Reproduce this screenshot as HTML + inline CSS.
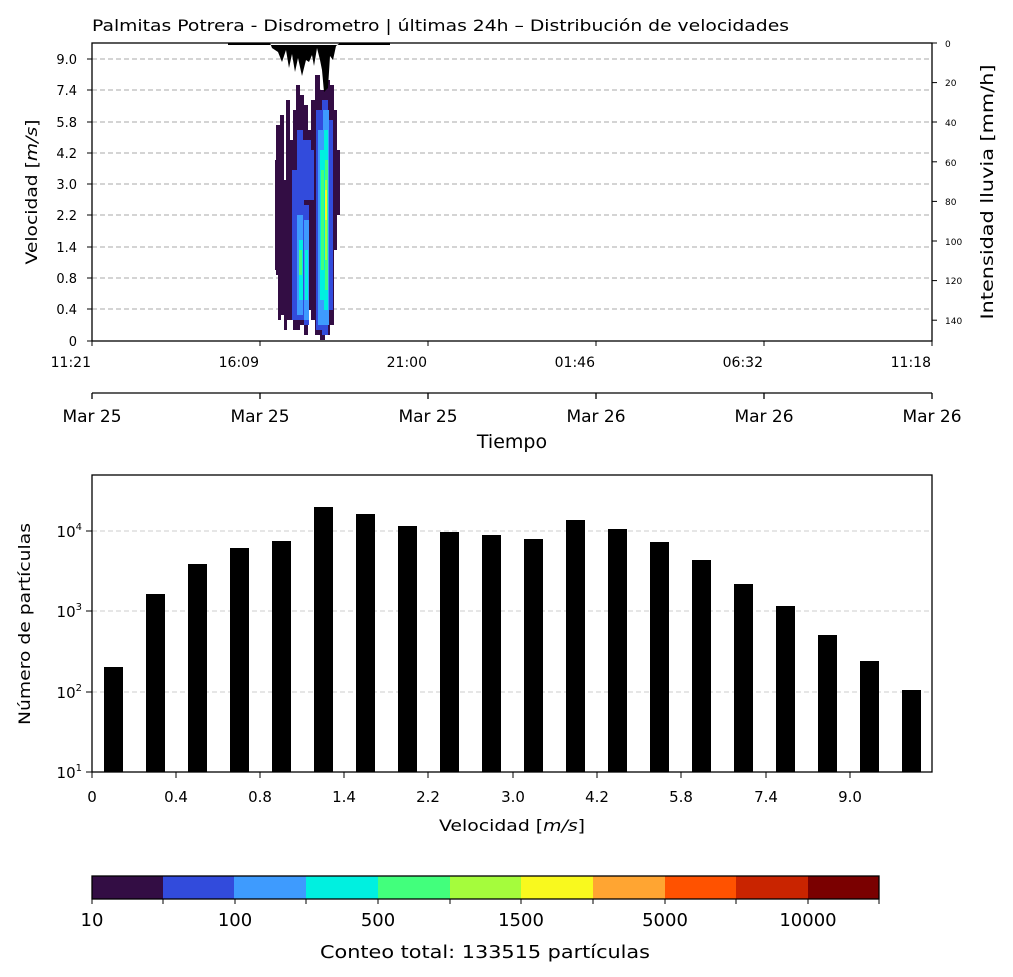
<!DOCTYPE html><html><head><meta charset="utf-8"><style>body{margin:0;background:#fff}svg{display:block}text{font-family:"DejaVu Sans","Liberation Sans",sans-serif;fill:#000}</style></head><body>
<svg width="1013" height="977" viewBox="0 0 1013 977" xmlns="http://www.w3.org/2000/svg">
<text x="92" y="31" font-size="16" textLength="697" lengthAdjust="spacingAndGlyphs">Palmitas Potrera - Disdrometro | últimas 24h – Distribución de velocidades</text>
<g stroke="#aaa" stroke-dasharray="5,3" stroke-width="1">
<line x1="92" x2="932" y1="59" y2="59"/><line x1="92" x2="932" y1="90" y2="90"/><line x1="92" x2="932" y1="122" y2="122"/><line x1="92" x2="932" y1="153" y2="153"/><line x1="92" x2="932" y1="184" y2="184"/><line x1="92" x2="932" y1="215" y2="215"/><line x1="92" x2="932" y1="247" y2="247"/><line x1="92" x2="932" y1="278" y2="278"/><line x1="92" x2="932" y1="309" y2="309"/></g>
<g fill="#330d44">
<rect x="275" y="160" width="3" height="110"/><rect x="276" y="125" width="4" height="150"/><rect x="278" y="260" width="3" height="60"/>
<rect x="280" y="115" width="4" height="200"/><rect x="284" y="180" width="3" height="150"/><rect x="286" y="100" width="4" height="220"/>
<rect x="290" y="140" width="3" height="180"/><rect x="293" y="110" width="3" height="220"/><rect x="296" y="85" width="4" height="245"/>
<rect x="300" y="95" width="4" height="230"/><rect x="304" y="105" width="4" height="230"/><rect x="308" y="130" width="3" height="180"/>
<rect x="311" y="100" width="4" height="220"/><rect x="315" y="75" width="5" height="260"/><rect x="320" y="90" width="5" height="250"/>
<rect x="325" y="80" width="5" height="255"/><rect x="330" y="85" width="4" height="240"/><rect x="334" y="110" width="3" height="140"/><rect x="337" y="150" width="3" height="65"/></g>
<g fill="#324bdc">
<rect x="292" y="170" width="6" height="150"/><rect x="297" y="130" width="6" height="70"/><rect x="298" y="200" width="6" height="120"/>
<rect x="303" y="140" width="8" height="60"/><rect x="304" y="205" width="5" height="120"/><rect x="310" y="150" width="4" height="50"/>
<rect x="316" y="110" width="6" height="220"/><rect x="322" y="100" width="6" height="235"/><rect x="328" y="120" width="5" height="190"/></g>
<g fill="#3e9bfe">
<rect x="297" y="215" width="6" height="100"/><rect x="304" y="220" width="5" height="100"/><rect x="318" y="130" width="5" height="195"/><rect x="323" y="110" width="6" height="215"/></g>
<g fill="#00f0e0"><rect x="299" y="240" width="4" height="60"/><rect x="305" y="250" width="3" height="50"/><rect x="320" y="150" width="4" height="150"/><rect x="324" y="130" width="4" height="180"/></g>
<g fill="#42ff7c"><rect x="299" y="250" width="3" height="25"/><rect x="321" y="170" width="3" height="100"/><rect x="325" y="160" width="3" height="130"/></g>
<rect x="325" y="180" width="2" height="80" fill="#a5fc3c"/><rect x="325" y="190" width="2" height="30" fill="#f9f91e"/>
<polygon fill="#000" points="228,43 270,43 272,48 278,52 282,62 286,50 289,68 292,54 295,72 298,58 302,76 306,60 309,62 312,55 314,66 317,48 320,60 322,70 324,92 328,88 330,56 333,60 336,46 340,43 390,43 390,45 228,45"/>
<rect x="92" y="43" width="840" height="298" fill="none" stroke="#000" stroke-width="1.3"/>
<g font-size="13" text-anchor="end">
<text x="77" y="346">0</text><text x="77" y="314">0.4</text><text x="77" y="283">0.8</text><text x="77" y="252">1.4</text><text x="77" y="220">2.2</text><text x="77" y="189">3.0</text><text x="77" y="158">4.2</text><text x="77" y="127">5.8</text><text x="77" y="95">7.4</text><text x="77" y="64">9.0</text></g>
<g stroke="#000"><line x1="87" x2="92" y1="341" y2="341"/><line x1="87" x2="92" y1="309" y2="309"/><line x1="87" x2="92" y1="278" y2="278"/><line x1="87" x2="92" y1="247" y2="247"/><line x1="87" x2="92" y1="215" y2="215"/><line x1="87" x2="92" y1="184" y2="184"/><line x1="87" x2="92" y1="153" y2="153"/><line x1="87" x2="92" y1="122" y2="122"/><line x1="87" x2="92" y1="90" y2="90"/><line x1="87" x2="92" y1="59" y2="59"/>
<line x1="932" x2="937" y1="43" y2="43"/><line x1="932" x2="937" y1="82.6" y2="82.6"/><line x1="932" x2="937" y1="122" y2="122"/><line x1="932" x2="937" y1="161.8" y2="161.8"/><line x1="932" x2="937" y1="201.4" y2="201.4"/><line x1="932" x2="937" y1="241" y2="241"/><line x1="932" x2="937" y1="280.6" y2="280.6"/><line x1="932" x2="937" y1="320.2" y2="320.2"/></g>
<g font-size="9"><text x="945" y="47">0</text><text x="945" y="86">20</text><text x="945" y="126">40</text><text x="945" y="166">60</text><text x="945" y="205">80</text><text x="945" y="245">100</text><text x="945" y="284">120</text><text x="945" y="324">140</text></g>
<text transform="translate(37,192) rotate(-90)" font-size="16" text-anchor="middle" textLength="145" lengthAdjust="spacingAndGlyphs">Velocidad [<tspan font-style="italic">m/s</tspan>]</text>
<text transform="translate(993,192) rotate(-90)" font-size="17" text-anchor="middle" textLength="255" lengthAdjust="spacingAndGlyphs">Intensidad lluvia [mm/h]</text>
<g stroke="#000"><line x1="92" x2="92" y1="341" y2="346"/><line x1="260" x2="260" y1="341" y2="346"/><line x1="428" x2="428" y1="341" y2="346"/><line x1="596" x2="596" y1="341" y2="346"/><line x1="764" x2="764" y1="341" y2="346"/><line x1="932" x2="932" y1="341" y2="346"/></g>
<g font-size="14" text-anchor="end"><text x="91" y="367">11:21</text><text x="259" y="367">16:09</text><text x="427" y="367">21:00</text><text x="595" y="367">01:46</text><text x="763" y="367">06:32</text><text x="931" y="367">11:18</text></g>
<g stroke="#000" stroke-width="1.3"><line x1="92" x2="932" y1="393" y2="393"/><line x1="92" x2="92" y1="393" y2="399"/><line x1="260" x2="260" y1="393" y2="399"/><line x1="428" x2="428" y1="393" y2="399"/><line x1="596" x2="596" y1="393" y2="399"/><line x1="764" x2="764" y1="393" y2="399"/><line x1="932" x2="932" y1="393" y2="399"/></g>
<g font-size="17" text-anchor="middle"><text x="92" y="422">Mar 25</text><text x="260" y="422">Mar 25</text><text x="428" y="422">Mar 25</text><text x="596" y="422">Mar 26</text><text x="764" y="422">Mar 26</text><text x="932" y="422">Mar 26</text><text x="512" y="448" font-size="19">Tiempo</text></g>
<g stroke="#ccc" stroke-dasharray="5,3"><line x1="92" x2="932" y1="531" y2="531"/><line x1="92" x2="932" y1="611" y2="611"/><line x1="92" x2="932" y1="692" y2="692"/></g>
<g fill="#000">
<rect x="104" y="667" width="19" height="105"/><rect x="146" y="594" width="19" height="178"/><rect x="188" y="564" width="19" height="208"/><rect x="230" y="548" width="19" height="224"/><rect x="272" y="541" width="19" height="231"/><rect x="314" y="507" width="19" height="265"/><rect x="356" y="514" width="19" height="258"/><rect x="398" y="526" width="19" height="246"/><rect x="440" y="532" width="19" height="240"/><rect x="482" y="535" width="19" height="237"/><rect x="524" y="539" width="19" height="233"/><rect x="566" y="520" width="19" height="252"/><rect x="608" y="529" width="19" height="243"/><rect x="650" y="542" width="19" height="230"/><rect x="692" y="560" width="19" height="212"/><rect x="734" y="584" width="19" height="188"/><rect x="776" y="606" width="19" height="166"/><rect x="818" y="635" width="19" height="137"/><rect x="860" y="661" width="19" height="111"/><rect x="902" y="690" width="19" height="82"/></g>
<rect x="92" y="475" width="840" height="297" fill="none" stroke="#000" stroke-width="1.3"/>
<g stroke="#000"><line x1="86" x2="92" y1="772" y2="772"/><line x1="86" x2="92" y1="692" y2="692"/><line x1="86" x2="92" y1="611" y2="611"/><line x1="86" x2="92" y1="531" y2="531"/>
<line x1="92" x2="92" y1="772" y2="778"/><line x1="176" x2="176" y1="772" y2="778"/><line x1="260" x2="260" y1="772" y2="778"/><line x1="344" x2="344" y1="772" y2="778"/><line x1="428" x2="428" y1="772" y2="778"/><line x1="513" x2="513" y1="772" y2="778"/><line x1="597" x2="597" y1="772" y2="778"/><line x1="681" x2="681" y1="772" y2="778"/><line x1="766" x2="766" y1="772" y2="778"/><line x1="850" x2="850" y1="772" y2="778"/></g>
<g font-size="15" text-anchor="end"><text x="82" y="778">10<tspan font-size="10" dy="-7">1</tspan></text><text x="82" y="698">10<tspan font-size="10" dy="-7">2</tspan></text><text x="82" y="617">10<tspan font-size="10" dy="-7">3</tspan></text><text x="82" y="537">10<tspan font-size="10" dy="-7">4</tspan></text></g>
<g font-size="15" text-anchor="middle"><text x="92" y="802">0</text><text x="176" y="802">0.4</text><text x="260" y="802">0.8</text><text x="344" y="802">1.4</text><text x="428" y="802">2.2</text><text x="513" y="802">3.0</text><text x="597" y="802">4.2</text><text x="681" y="802">5.8</text><text x="766" y="802">7.4</text><text x="850" y="802">9.0</text>
<text x="512" y="831" font-size="16" textLength="146" lengthAdjust="spacingAndGlyphs">Velocidad [<tspan font-style="italic">m/s</tspan>]</text></g>
<text transform="translate(30,624) rotate(-90)" font-size="16" text-anchor="middle" textLength="202" lengthAdjust="spacingAndGlyphs">Número de partículas</text>
<g><rect x="92" y="876" width="72" height="23" fill="#330d44"/><rect x="163" y="876" width="72" height="23" fill="#324bdc"/><rect x="234" y="876" width="72" height="23" fill="#3e9bfe"/><rect x="306" y="876" width="72" height="23" fill="#00f0e0"/><rect x="378" y="876" width="72" height="23" fill="#42ff7c"/><rect x="450" y="876" width="72" height="23" fill="#a5fc3c"/><rect x="521" y="876" width="72" height="23" fill="#f9f91e"/><rect x="593" y="876" width="72" height="23" fill="#ffa532"/><rect x="665" y="876" width="72" height="23" fill="#ff5200"/><rect x="736" y="876" width="72" height="23" fill="#c92400"/><rect x="808" y="876" width="71" height="23" fill="#7a0000"/></g>
<rect x="92" y="876" width="787" height="23" fill="none" stroke="#000" stroke-width="1.3"/>
<g stroke="#000"><line x1="92" x2="92" y1="899" y2="904"/><line x1="163" x2="163" y1="899" y2="904"/><line x1="235" x2="235" y1="899" y2="904"/><line x1="306" x2="306" y1="899" y2="904"/><line x1="378" x2="378" y1="899" y2="904"/><line x1="450" x2="450" y1="899" y2="904"/><line x1="521" x2="521" y1="899" y2="904"/><line x1="593" x2="593" y1="899" y2="904"/><line x1="665" x2="665" y1="899" y2="904"/><line x1="736" x2="736" y1="899" y2="904"/><line x1="808" x2="808" y1="899" y2="904"/><line x1="879" x2="879" y1="899" y2="904"/></g>
<g font-size="18" text-anchor="middle"><text x="92" y="926">10</text><text x="235" y="926">100</text><text x="378" y="926">500</text><text x="521" y="926">1500</text><text x="665" y="926">5000</text><text x="808" y="926">10000</text>
<text x="485" y="958" font-size="18" textLength="330" lengthAdjust="spacingAndGlyphs">Conteo total: 133515 partículas</text></g>
</svg></body></html>
